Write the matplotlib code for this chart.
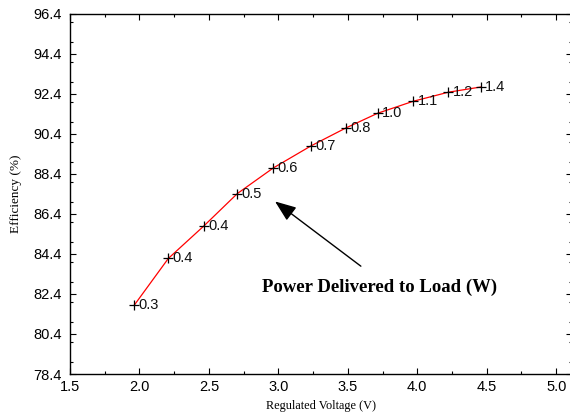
import matplotlib
matplotlib.use("Agg")
import matplotlib.pyplot as plt
from matplotlib.ticker import MultipleLocator

# values
voltage = [1.963, 2.208, 2.465, 2.705, 2.964, 3.235, 3.485, 3.715, 3.972, 4.224, 4.457]
efficiency = [81.84, 84.17, 85.80, 87.41, 88.69, 89.79, 90.68, 91.42, 92.02, 92.47, 92.73]
power_labels = ["0.3", "0.4", "0.4", "0.5", "0.6", "0.7", "0.8", "1.0", "1.1", "1.2", "1.4"]

x_ticks = [1.5, 2.0, 2.5, 3.0, 3.5, 4.0, 4.5, 5.0]
y_ticks = [78.4, 80.4, 82.4, 84.4, 86.4, 88.4, 90.4, 92.4, 94.4, 96.4]

sans = ["Liberation Sans", "DejaVu Sans"]
serif = ["Liberation Serif", "DejaVu Serif"]

fig = plt.figure(figsize=(5.7, 4.12), dpi=100)
ax = fig.add_axes([70 / 570, 38 / 412, 502 / 570, 360.5 / 412])

ax.plot(voltage, efficiency, color="red", lw=0.9)
ax.plot(voltage, efficiency, ls="none", marker="+", ms=7, mew=0.9, color="black")
for v, e, lab in zip(voltage, efficiency, power_labels):
    ax.annotate(lab, (v, e), xytext=(3, 0), textcoords="offset points",
                va="center", ha="left", fontsize=10.5, family=sans, color="#111111")

ax.set_xlim(1.5, 1.5 + 502 / 138.9)
ax.set_ylim(78.4, 96.4)
ax.set_xticks(x_ticks)
ax.set_yticks(y_ticks)
ax.set_xticklabels([f"{t:.1f}" for t in x_ticks], family=sans, fontsize=10.5)
ax.set_yticklabels([f"{t:.1f}" for t in y_ticks], family=sans, fontsize=10.5)
ax.xaxis.set_minor_locator(MultipleLocator(0.25))
ax.yaxis.set_minor_locator(MultipleLocator(1.0))
ax.tick_params(which="both", direction="in", top=True, right=True, width=0.8)
ax.tick_params(which="major", length=4, pad=4)
ax.tick_params(axis="y", which="major", pad=6)
ax.tick_params(which="minor", length=2.5)
for s in ax.spines.values():
    s.set_linewidth(1.0)

ax.set_xlabel("Regulated Voltage (V)", family=serif, fontsize=8.8, labelpad=5)
ax.set_ylabel("Efficiency (%)", family=serif, fontsize=9.5, labelpad=8)

ax.annotate("", xy=(2.96, 87.1), xytext=(3.61, 83.7),
            arrowprops=dict(arrowstyle="-|>,head_length=1.3,head_width=0.5",
                            color="black", lw=1.0))
ax.text(3.73, 82.74, "Power Delivered to Load (W)", family=serif,
        fontweight="bold", fontsize=13.5, ha="center", va="center")

fig.savefig("out.png", dpi=100)
